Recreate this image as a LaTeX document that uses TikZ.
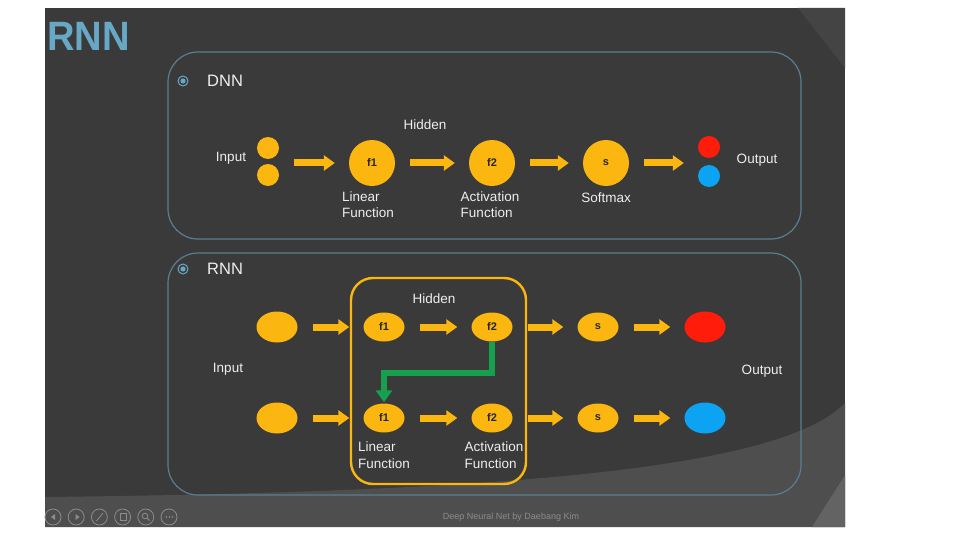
\documentclass[tikz,border=0pt]{standalone}
\usepackage{fontspec}
\setmainfont{Liberation Sans}
\usepackage{tikz}
\usetikzlibrary{
  arrows.meta,
  shapes.geometric,
  positioning,
  calc
}
\definecolor{nnBg}{HTML}{3A3A3A}
\definecolor{nnBgLight}{HTML}{4E4E4E}
\definecolor{nnBgEdge}{HTML}{444444}
\definecolor{nnPanel}{HTML}{5A7E8E}
\definecolor{nnTitle}{HTML}{66A8C6}
\definecolor{nnYellow}{HTML}{FBB610}
\definecolor{nnRed}{HTML}{FF1C0A}
\definecolor{nnBlue}{HTML}{0BA3F2}
\definecolor{nnGreen}{HTML}{16A04E}
\definecolor{nnText}{HTML}{EEEEEE}
\definecolor{nnMute}{HTML}{8C8C8C}
\tikzset{
  panel/.style={draw=nnPanel, line width=1.2pt, rounded corners=30pt, rectangle},
  hidbox/.style={draw=nnYellow, line width=2.4pt, rounded corners=22pt, rectangle},
  bullet/.style={circle, draw=nnTitle, line width=1pt, minimum size=10pt, inner sep=0pt,
    path picture={\fill[nnTitle] (path picture bounding box.center) circle (2.6pt);}},
  unit/.style={circle, fill=nnYellow, minimum size=46pt, inner sep=0pt,
    font=\fontsize{11}{13}\selectfont\bfseries, text=black!85},
  dot/.style={circle, minimum size=22pt, inner sep=0pt},
  cell/.style={ellipse, fill=nnYellow, minimum width=41pt, minimum height=29pt, inner sep=0pt,
    font=\fontsize{11}{13}\selectfont\bfseries, text=black!85},
  outcell/.style={ellipse, minimum width=41pt, minimum height=31pt, inner sep=0pt},
  tag/.style={font=\fontsize{13.5}{16.5}\selectfont, text=nnText, align=left, inner sep=0pt},
  head/.style={font=\fontsize{16.5}{19}\selectfont, text=nnText, inner sep=0pt},
  flow/.style={-{Triangle[length=11pt, width=15pt]}, line width=7pt, nnYellow,
    shorten <=15pt, shorten >=14pt},
  recur/.style={-{Triangle[length=12pt, width=16pt]}, line width=6.5pt, nnGreen, shorten >=1pt},
  icon/.style={draw=nnMute, line width=0.8pt}
}

\begin{document}
\begin{tikzpicture}[x=1pt, y=-1pt, node distance=5pt]
  \useasboundingbox (0,0) rectangle (960,540);
  % slide background
  \fill[white] (0,0) rectangle (960,540);
  \fill[nnBg] (45,8) rectangle (845,527);
  \fill[nnBgEdge] (798,8) -- (845,8) -- (845,68) -- cycle;
  \fill[nnBgLight] (45,527) -- (45,497) .. controls (500,492) and (780,470) .. (845,403) -- (845,527) -- cycle;
  \fill[nnBgLight!88!white] (845,475) -- (845,527) -- (812,527) -- cycle;

  \node[font=\fontsize{41}{44}\selectfont\bfseries, text=nnTitle, xscale=0.93, transform shape, anchor=west] (title) at (44,36) {RNN};

  % DNN panel
  \node[panel, minimum width=633pt, minimum height=187pt] (dnn) at (484.5,145.5) {};
  \node[bullet] (b1) at (183,81) {};
  \node[head, anchor=west] (dnnlbl) at (207,81) {DNN};

  \node[dot, fill=nnYellow] (in1) at (268,148) {};
  \node[dot, fill=nnYellow] (in2) at (268,175) {};
  \node[tag] (inlbl) at (231,158) {Input};
  \node[unit] (f1) at (372,163) {f1};
  \node[unit] (f2) at (492,163) {f2};
  \node[unit] (s0) at (606,163) {s};
  \node[dot, fill=nnRed] (o1) at (709,147) {};
  \node[dot, fill=nnBlue] (o2) at (709,176) {};
  \node[tag] (outlbl) at (757,160) {Output};
  \node[tag] (hidlbl) at (425,125) {Hidden};
  \node[tag, below=5pt of f1, xshift=-4pt] (lin) {Linear\\Function};
  \node[tag, below=5pt of f2, xshift=-2pt] (act) {Activation\\Function};
  \node[tag, below=6pt of s0] (soft) {Softmax};

  \draw[flow] (in1.east |- f1) -- (f1);
  \draw[flow] (f1) -- (f2);
  \draw[flow] (f2) -- (s0);
  \draw[flow] (s0) -- (s0 -| o1.west);

  % RNN panel
  \node[panel, minimum width=633pt, minimum height=242pt] (rnn) at (484.5,374) {};
  \node[bullet] (b2) at (183,269) {};
  \node[head, anchor=west] (rnnlbl) at (207,269) {RNN};
  \node[hidbox, minimum width=175pt, minimum height=206pt] (hbox) at (438.5,381) {};
  \node[tag] (hidlbl2) at (434,299) {Hidden};

  \node[outcell, fill=nnYellow] (x1) at (277,327) {};
  \node[outcell, fill=nnYellow] (x2) at (277,418) {};
  \node[cell] (a1) at (384,327) {f1};
  \node[cell] (a2) at (492,327) {f2};
  \node[cell] (b1x) at (384,418) {f1};
  \node[cell] (b2x) at (492,418) {f2};
  \node[cell] (s1) at (598,327) {s};
  \node[cell] (s2) at (598,418) {s};
  \node[outcell, fill=nnRed] (y1) at (705,327) {};
  \node[outcell, fill=nnBlue] (y2) at (705,418) {};
  \node[tag] (inlbl2) at (228,369) {Input};
  \node[tag] (outlbl2) at (762,371) {Output};
  \node[tag, below=9pt of b1x] (lin2) {Linear\\Function};
  \node[tag, below=9pt of b2x, xshift=2pt] (act2) {Activation\\Function};

  \draw[flow] (x1) -- (a1);
  \draw[flow] (a1) -- (a2);
  \draw[flow] (a2) -- (s1);
  \draw[flow] (s1) -- (y1);
  \draw[flow] (x2) -- (b1x);
  \draw[flow] (b1x) -- (b2x);
  \draw[flow] (b2x) -- (s2);
  \draw[flow] (s2) -- (y2);
  \draw[recur] (a2) -- ++(0,46) -| (b1x);

  % footer
  \foreach \i in {0,...,5}
    \draw[icon] ({53+23.2*\i},517) circle (8);
  \fill[nnMute] (55,514) -- (51,517) -- (55,520) -- cycle;
  \fill[nnMute] (75.5,514) -- (79.5,517) -- (75.5,520) -- cycle;
  \draw[icon] (96.5,521) -- (103,513);
  \draw[icon] (120,513.5) rectangle (126,520.5);
  \draw[icon] (145,516) circle (2.8) (147,518) -- (149.5,520.5);
  \foreach \d in {-3,0,3}
    \fill[nnMute] ({169.5+\d},517) circle (0.9);
  \node[font=\fontsize{9}{10}\selectfont, text=nnMute] (foot) at (511,517) {Deep Neural Net by Daebang Kim};
\end{tikzpicture}
\end{document}
